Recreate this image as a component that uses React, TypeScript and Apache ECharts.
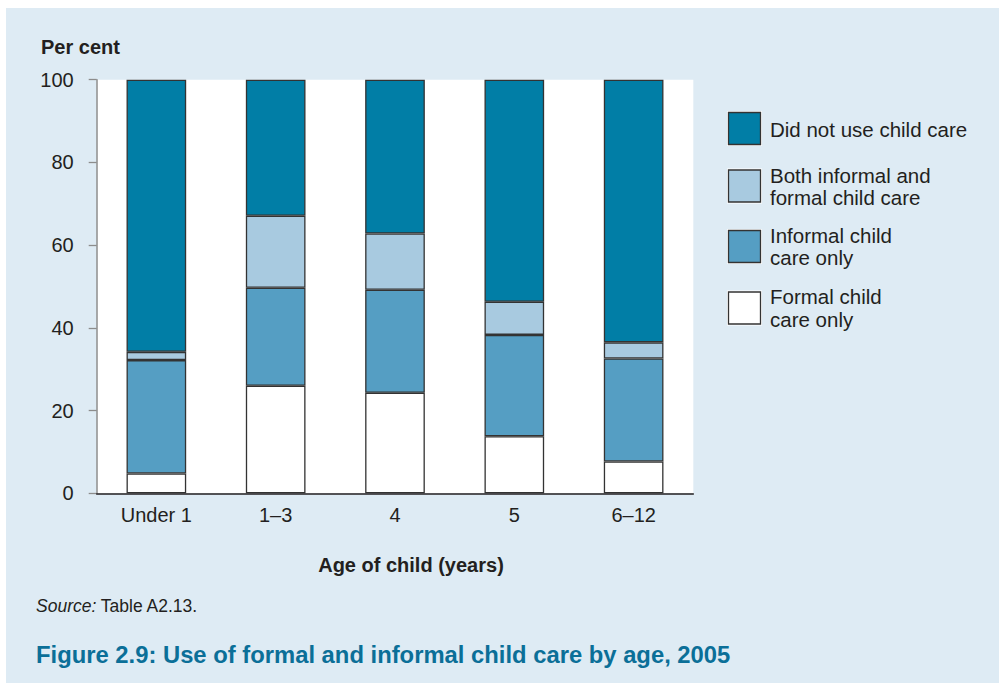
import React, { useEffect, useRef } from "react";
import * as echarts from "echarts";

// Age groups along the horizontal axis
const categories = ["Under 1", "1–3", "4", "5", "6–12"];

// Share of children (per cent) in each type of care, stacked bottom to top
const formalOnly = [4.8, 26.0, 24.3, 13.8, 7.7];
const informalOnly = [27.4, 23.7, 24.9, 24.5, 24.9];
const bothCare = [2.0, 17.4, 13.6, 8.0, 3.9];
const noCare = [65.8, 32.9, 37.2, 53.7, 63.5];

const seriesNames = [
  "Formal child care only",
  "Informal child care only",
  "Both informal and formal child care",
  "Did not use child care",
];

// Legend entries, top to bottom, with their wrapped labels
const legendLabels = [
  "Did not use child care",
  "Both informal and\nformal child care",
  "Informal child\ncare only",
  "Formal child\ncare only",
];

const FONT = '"Liberation Sans", Arial, Helvetica, sans-serif';
const INK = "#231f20";
const COLORS = {
  formal: "#ffffff",
  informal: "#559ec3",
  both: "#a8cae0",
  none: "#017ea6",
};
const PANEL = "#deebf4";

export default function App() {
  const ref = useRef<HTMLDivElement>(null);

  useEffect(() => {
    if (!ref.current) return;
    const chart = echarts.init(ref.current, undefined, { renderer: "svg" });

    const stackValues = [formalOnly, informalOnly, bothCare, noCare];
    const stackColors = [COLORS.formal, COLORS.informal, COLORS.both, COLORS.none];
    const legendColors = [COLORS.none, COLORS.both, COLORS.informal, COLORS.formal];

    const boxTops = [112, 169.5, 230, 291.5];
    const textMids = [129.5, 186.5, 246.5, 308];

    const legendGraphics: any[] = [];
    legendLabels.forEach((label, i) => {
      legendGraphics.push({
        type: "rect",
        silent: true,
        shape: { x: 727, y: boxTops[i] - 1, width: 35, height: 35 },
        style: { fill: "#ffffff" },
      });
      legendGraphics.push({
        type: "rect",
        silent: true,
        shape: { x: 728.5, y: boxTops[i] + 0.5, width: 32, height: 32 },
        style: { fill: legendColors[i], stroke: "#333333", lineWidth: 1.3 },
      });
      legendGraphics.push({
        type: "text",
        silent: true,
        x: 770,
        y: textMids[i],
        style: {
          text: label,
          fontFamily: FONT,
          fontSize: 20.5,
          lineHeight: 22.5,
          fill: INK,
          verticalAlign: "middle",
          align: "left",
        },
      });
    });

    const option: any = {
      animation: false,
      backgroundColor: "transparent",
      textStyle: { fontFamily: FONT },
      grid: {
        left: 96.7,
        right: 305.7,
        top: 79.7,
        bottom: 189.7,
        show: true,
        backgroundColor: "#ffffff",
        borderWidth: 0,
        containLabel: false,
      },
      xAxis: {
        type: "category",
        data: categories,
        axisLine: { lineStyle: { color: INK, width: 1.5 } },
        axisTick: { show: false },
        axisLabel: { fontSize: 20, color: INK, margin: 12, fontFamily: FONT },
        z: 10,
      },
      yAxis: {
        type: "value",
        min: 0,
        max: 100,
        interval: 20,
        axisLine: { show: true, lineStyle: { color: "#8c8c8c", width: 1.5 } },
        axisTick: { show: true, length: 8, lineStyle: { color: "#8c8c8c", width: 1.3 } },
        axisLabel: { fontSize: 20, color: INK, margin: 23, fontFamily: FONT },
        splitLine: { show: false },
      },
      series: stackValues.map((vals, i) => ({
        name: seriesNames[i],
        type: "bar",
        stack: "care",
        barWidth: "50%",
        data: vals,
        itemStyle: {
          color: stackColors[i],
          borderColor: "#333333",
          borderWidth: 1.3,
        },
      })),
      graphic: [
        {
          type: "text",
          silent: true,
          x: 41,
          y: 47,
          style: {
            text: "Per cent",
            fontFamily: FONT,
            fontSize: 20,
            fontWeight: "bold",
            fill: INK,
            verticalAlign: "middle",
          },
        },
        {
          type: "text",
          silent: true,
          x: 411,
          y: 565,
          style: {
            text: "Age of child (years)",
            fontFamily: FONT,
            fontSize: 20,
            fontWeight: "bold",
            fill: INK,
            align: "center",
            verticalAlign: "middle",
          },
        },
        {
          type: "text",
          silent: true,
          x: 36,
          y: 606,
          style: {
            text: "{i|Source:} Table A2.13.",
            fontFamily: FONT,
            fontSize: 17.5,
            fill: INK,
            verticalAlign: "middle",
            rich: {
              i: { fontStyle: "italic", fontFamily: FONT, fontSize: 17.5, fill: INK },
            },
          },
        },
        {
          type: "text",
          silent: true,
          x: 36,
          y: 654,
          style: {
            text: "Figure 2.9: Use of formal and informal child care by age, 2005",
            fontFamily: FONT,
            fontSize: 23.8,
            fontWeight: "bold",
            fill: "#0b6f98",
            verticalAlign: "middle",
          },
        },
        ...legendGraphics,
      ],
    };

    chart.setOption(option);
    return () => chart.dispose();
  }, []);

  return (
    <div
      style={{
        position: "absolute",
        left: 0,
        top: 0,
        width: 999,
        height: 683,
        background: `linear-gradient(${PANEL}, ${PANEL}) 6px 8px / 993px 675px no-repeat, #ffffff`,
      }}
    >
      <div ref={ref} style={{ width: 999, height: 683 }} />
    </div>
  );
}
